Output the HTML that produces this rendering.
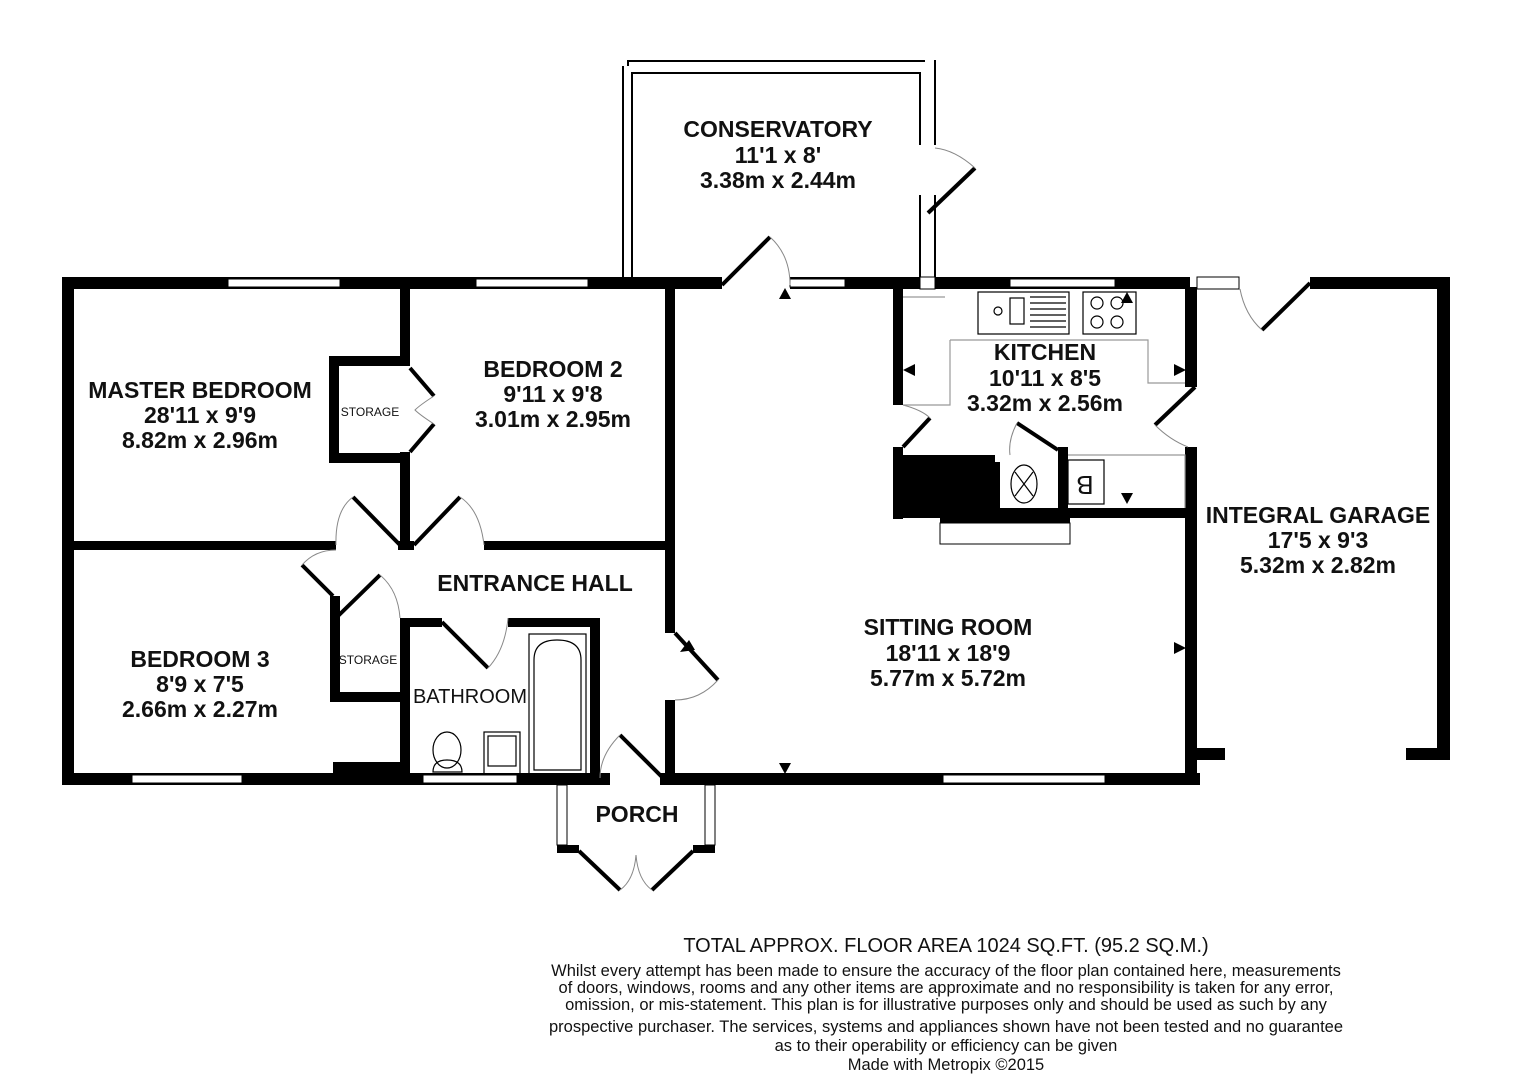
<!DOCTYPE html>
<html><head><meta charset="utf-8"><style>
html,body{margin:0;padding:0;background:#fff;width:1528px;height:1080px;overflow:hidden}
text{font-family:"Liberation Sans",Arial,sans-serif;fill:#111}
.r{font-weight:bold;font-size:23px;text-anchor:middle}
.s{font-size:12px;text-anchor:middle}
.f{font-size:16.5px;text-anchor:middle}
</style></head><body>
<svg width="1528" height="1080" viewBox="0 0 1528 1080" xmlns="http://www.w3.org/2000/svg">
<g fill="#000">
<rect x="62" y="277" width="660" height="12"/>
<rect x="790" y="277" width="400" height="12"/>
<rect x="1310" y="277" width="140" height="12"/>
<rect x="62" y="277" width="12" height="508"/>
<rect x="62" y="773" width="495" height="12"/>
<rect x="660" y="773" width="540" height="12"/>
<rect x="333" y="762" width="75" height="12"/>
<rect x="400" y="287" width="10" height="72"/>
<rect x="400" y="452" width="10" height="96"/>
<rect x="329" y="356" width="81" height="10"/>
<rect x="329" y="356" width="10" height="107"/>
<rect x="329" y="453" width="81" height="10"/>
<rect x="62" y="541" width="274" height="9"/>
<rect x="484" y="541" width="190" height="9"/>
<rect x="398" y="541" width="16" height="9"/>
<rect x="665" y="287" width="10" height="346"/>
<rect x="665" y="700" width="10" height="85"/>
<rect x="330" y="596" width="10" height="106"/>
<rect x="330" y="692" width="80" height="10"/>
<rect x="400" y="618" width="10" height="160"/>
<rect x="400" y="618" width="42" height="9"/>
<rect x="508" y="618" width="92" height="9"/>
<rect x="590" y="618" width="10" height="160"/>
<rect x="540" y="773" width="70" height="12"/>
<rect x="557" y="845" width="22" height="8"/>
<rect x="693" y="845" width="22" height="8"/>
<rect x="893" y="287" width="10" height="118"/>
<rect x="1185" y="287" width="12" height="100"/>
<rect x="1185" y="447" width="12" height="335"/>
<rect x="893" y="447" width="10" height="72"/>
<rect x="893" y="508" width="297" height="10"/>
<polygon points="903,455 995,455 995,462 1000,462 1000,508 903,508"/>
<rect x="940" y="515" width="130" height="8"/>
<rect x="1058" y="447" width="10" height="65"/>
<rect x="1437" y="277" width="13" height="483"/>
<rect x="1188" y="748" width="37" height="12"/>
<rect x="1406" y="748" width="44" height="12"/>
</g>
<g fill="#fff" stroke="#000" stroke-width="1">
<rect x="228" y="279" width="112" height="8"/>
<rect x="476" y="279" width="112" height="8"/>
<rect x="790" y="279" width="55" height="8"/>
<rect x="1010" y="279" width="105" height="8"/>
<rect x="1197" y="277" width="42" height="12"/>
<rect x="132" y="775" width="110" height="8"/>
<rect x="423" y="775" width="94" height="8"/>
<rect x="943" y="775" width="162" height="8"/>
<rect x="940" y="523" width="130" height="21"/>
<rect x="557" y="785" width="10" height="60"/>
<rect x="705" y="785" width="10" height="60"/>
<rect x="920" y="277" width="15" height="12"/>
</g>
<g fill="none" stroke="#000" stroke-width="2">
<path d="M623,277 V66 M632,277 V73 H920 V145 M628,66 V61 H925 M935,60 V145 M920,195 V277 M935,195 V277"/>
</g>
<g stroke="#000" stroke-width="4" fill="none">
<line x1="722" y1="285" x2="770" y2="237"/>
<line x1="928" y1="213" x2="975" y2="168"/>
<line x1="1262" y1="330" x2="1310" y2="283"/>
<line x1="1155" y1="425" x2="1195" y2="387"/>
<line x1="903" y1="447" x2="930" y2="418"/>
<line x1="1017" y1="423" x2="1058" y2="450"/>
<line x1="410" y1="368" x2="434" y2="396"/>
<line x1="410" y1="452" x2="434" y2="424"/>
<line x1="353" y1="497" x2="400" y2="545"/>
<line x1="414" y1="545" x2="460" y2="497"/>
<line x1="302" y1="565" x2="333" y2="596"/>
<line x1="338" y1="616" x2="380" y2="575"/>
<line x1="442" y1="622" x2="488" y2="668"/>
<line x1="675" y1="633" x2="718" y2="680"/>
<line x1="620" y1="735" x2="665" y2="780"/>
<line x1="579" y1="851" x2="620" y2="890"/>
<line x1="693" y1="851" x2="652" y2="890"/>
</g>
<g stroke="#888" stroke-width="1" fill="none">
<path d="M770,237 Q790,255 790,285"/>
<path d="M975,168 Q955,150 935,148"/>
<path d="M1262,330 Q1245,315 1240,289"/>
<path d="M1155,425 Q1170,440 1188,447"/>
<path d="M903,405 Q922,410 930,418"/>
<path d="M1017,423 Q1008,440 1010,455"/>
<path d="M353,497 Q335,510 336,545"/>
<path d="M460,497 Q480,510 484,545"/>
<path d="M302,565 Q315,550 336,550"/>
<path d="M380,575 Q398,590 400,618"/>
<path d="M508,618 Q505,650 488,668"/>
<path d="M718,680 Q700,700 675,700"/>
<path d="M620,735 Q600,755 600,778"/>
<path d="M620,890 Q634,880 636,855 Q638,880 652,890"/>
<path d="M434,396 Q420,405 415,410 Q420,415 434,424"/>
</g>
<g fill="none" stroke="#000" stroke-width="1.2">
<rect x="978" y="292" width="91" height="42"/>
<rect x="1083" y="292" width="53" height="42"/>
<circle cx="1097" cy="303" r="6"/><circle cx="1117" cy="303" r="6"/>
<circle cx="1097" cy="322" r="6"/><circle cx="1117" cy="322" r="6"/>
<circle cx="998" cy="311" r="4"/>
<rect x="1010" y="298" width="14" height="26"/>
<path d="M1030,297 h36 M1030,303 h36 M1030,309 h36 M1030,315 h36 M1030,321 h36 M1030,327 h36"/>
<ellipse cx="1024" cy="484" rx="13" ry="19"/>
<path d="M1015,472 L1033,496 M1033,472 L1015,496"/>
<rect x="1068" y="460" width="36" height="44"/>
<path stroke="#999" d="M903,297 H945 M950,340 H1148 V383 H1185 M950,340 V405 H903 M1068,455 H1185 V508"/>
</g>
<text x="1087" y="494" style="font-size:26px" transform="rotate(180 1086 485)" text-anchor="middle">B</text>
<g fill="none" stroke="#000" stroke-width="1.2">
<rect x="529" y="634" width="57" height="142"/>
<path d="M534,770 V660 Q534,640 557,640 Q581,640 581,660 V770 Z"/>
<ellipse cx="447" cy="750" rx="14" ry="18"/>
<path d="M433,772 Q433,760 447,760 Q462,760 462,772 Z"/>
<rect x="484" y="732" width="36" height="42"/>
<rect x="488" y="736" width="28" height="30"/>
</g>
<g fill="#000">
<polygon points="785,288 779,299 791,299"/>
<polygon points="779,763 791,763 785,774"/>
<polygon points="903,370 915,364 915,376"/>
<polygon points="1186,370 1174,364 1174,376"/>
<polygon points="1186,648 1174,642 1174,654"/>
<polygon points="1127,292 1121,303 1133,303"/>
<polygon points="1121,493 1133,493 1127,504"/>
<polygon points="689,640 680,652 695,650"/>
</g>
<text class="r" x="778" y="137">CONSERVATORY</text>
<text class="r" x="778" y="163">11'1 x 8'</text>
<text class="r" x="778" y="188">3.38m x 2.44m</text>
<text class="r" x="200" y="398">MASTER BEDROOM</text>
<text class="r" x="200" y="423">28'11 x 9'9</text>
<text class="r" x="200" y="448">8.82m x 2.96m</text>
<text class="r" x="553" y="377">BEDROOM 2</text>
<text class="r" x="553" y="402">9'11 x 9'8</text>
<text class="r" x="553" y="427">3.01m x 2.95m</text>
<text class="s" x="370" y="416">STORAGE</text>
<text class="s" x="368" y="664">STORAGE</text>
<text class="r" x="535" y="591">ENTRANCE HALL</text>
<text class="r" x="1045" y="360">KITCHEN</text>
<text class="r" x="1045" y="386">10'11 x 8'5</text>
<text class="r" x="1045" y="411">3.32m x 2.56m</text>
<text class="r" x="1318" y="523">INTEGRAL GARAGE</text>
<text class="r" x="1318" y="548">17'5 x 9'3</text>
<text class="r" x="1318" y="573">5.32m x 2.82m</text>
<text class="r" x="200" y="667">BEDROOM 3</text>
<text class="r" x="200" y="692">8'9 x 7'5</text>
<text class="r" x="200" y="717">2.66m x 2.27m</text>
<text x="470" y="703" style="font-size:20px" text-anchor="middle">BATHROOM</text>
<text class="r" x="948" y="635">SITTING ROOM</text>
<text class="r" x="948" y="661">18'11 x 18'9</text>
<text class="r" x="948" y="686">5.77m x 5.72m</text>
<text class="r" x="637" y="822">PORCH</text>
<text x="946" y="952" style="font-size:20px" text-anchor="middle">TOTAL APPROX. FLOOR AREA 1024 SQ.FT. (95.2 SQ.M.)</text>
<text class="f" x="946" y="976">Whilst every attempt has been made to ensure the accuracy of the floor plan contained here, measurements</text>
<text class="f" x="946" y="993">of doors, windows, rooms and any other items are approximate and no responsibility is taken for any error,</text>
<text class="f" x="946" y="1010">omission, or mis-statement. This plan is for illustrative purposes only and should be used as such by any</text>
<text class="f" x="946" y="1032">prospective purchaser. The services, systems and appliances shown have not been tested and no guarantee</text>
<text class="f" x="946" y="1051">as to their operability or efficiency can be given</text>
<text class="f" x="946" y="1070">Made with Metropix ©2015</text>
</svg>
</body></html>
